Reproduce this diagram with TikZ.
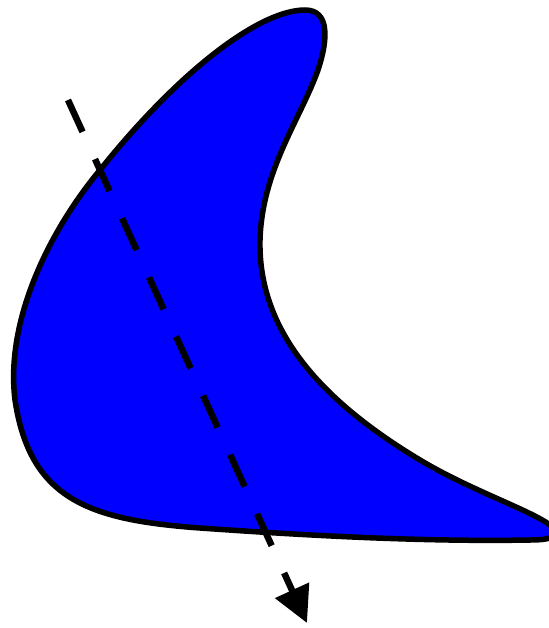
\documentclass[tikz,border=0pt]{standalone}
\usepackage{tikz}
\usepackage{xcolor}
\usetikzlibrary{arrows.meta, calc}
\definecolor{BoomBlue}{HTML}{0000FF}
\definecolor{EdgeBlack}{HTML}{000000}

\begin{document}
\begin{tikzpicture}[x=1pt, y=-1pt,
    blade/.style={draw=EdgeBlack, fill=BoomBlue, line width=5.5pt, line join=round},
    cutline/.style={draw=EdgeBlack, line width=6.5pt, dash pattern=on 35pt off 30pt,
                    -{Triangle[length=36pt, width=36pt]}}]
        \useasboundingbox (0,0) rectangle (548,628);
        % boomerang outline
        \path[blade] (100,170) .. controls (180,70) and (260,10) .. (305,10)
          .. controls (330,10) and (328,40) .. (318,70)
          .. controls (300,120) and (262,170) .. (260,240)
          .. controls (258,330) and (320,400) .. (420,460)
          .. controls (470,490) and (530,510) .. (550,525)
          .. controls (560,535) and (555,540) .. (530,540)
          .. controls (420,542) and (300,535) .. (200,528)
          .. controls (90,520) and (30,500) .. (15,400)
          .. controls (5,320) and (50,230) .. (100,170) -- cycle;
        % dashed cut
        \coordinate (cutA) at (68,100);
        \coordinate (cutB) at (307,623);
        \draw[cutline] (cutA) -- (cutB);
      \end{tikzpicture}
\end{document}
